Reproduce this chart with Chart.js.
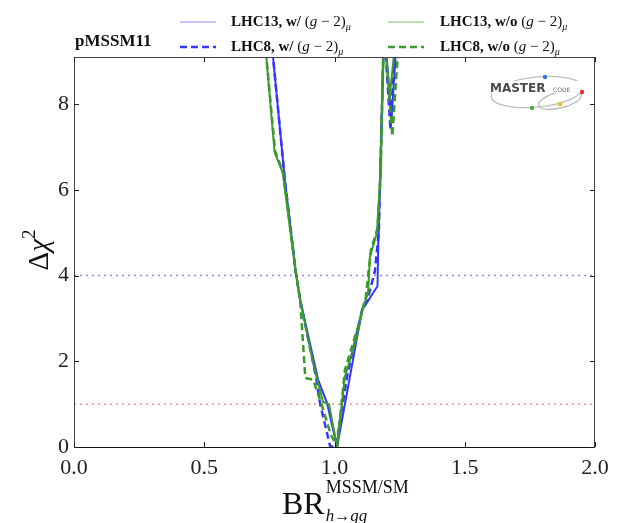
<!DOCTYPE html>
<html>
<head>
<meta charset="utf-8">
<script src="https://cdn.jsdelivr.net/npm/chart.js@4.4.1/dist/chart.umd.min.js"></script>
<style>
  html, body { margin: 0; padding: 0; background: #fff; }
  #wrap { width: 626px; height: 523px; }
</style>
</head>
<body>
<div id="wrap"><canvas id="chart" width="626" height="523"></canvas></div>
<script>
// Delta chi^2 profiles vs BR(h->gg) ratio, pMSSM11
const xTicks = [0.0, 0.5, 1.0, 1.5, 2.0];
const yTicks = [0, 2, 4, 6, 8];

const lhc13With = [
  [0.748, 10], [0.764, 9.1], [0.81, 6.2], [0.852, 4.05], [0.868, 3.44],
  [0.937, 1.57], [0.971, 1.03], [1.01, 0], [1.106, 3.2], [1.165, 3.75],
  [1.168, 4.7], [1.175, 6.2], [1.19, 9.8], [1.219, 7.7], [1.242, 9.8]
];
const lhc8With = [
  [0.748, 10], [0.764, 9.1], [0.81, 6.2], [0.852, 4.05], [0.868, 3.44],
  [0.93, 1.6], [0.944, 1.03], [0.983, 0.02], [1.005, 0], [1.05, 1.7],
  [1.106, 3.2], [1.125, 3.4], [1.155, 4.1], [1.17, 5.0], [1.175, 6.2],
  [1.19, 9.8], [1.215, 7.4], [1.235, 9.8]
];
const lhc13Without = [
  [0.725, 10], [0.738, 9.12], [0.77, 6.88], [0.801, 6.41], [0.852, 4.05],
  [0.868, 3.44], [0.92, 1.9], [0.956, 1.05], [0.979, 1.0], [1.01, 0],
  [1.04, 1.64], [1.086, 2.57], [1.11, 3.27], [1.129, 3.6], [1.136, 4.44],
  [1.163, 5.0], [1.175, 6.25], [1.19, 9.8], [1.212, 8.2], [1.24, 9.8]
];
const lhc8Without = [
  [0.725, 10], [0.738, 9.12], [0.772, 6.9], [0.803, 6.4], [0.852, 4.05],
  [0.868, 3.44], [0.888, 1.61], [0.918, 1.57], [0.95, 1.0], [0.985, 0.3],
  [1.01, 0], [1.04, 1.8], [1.09, 2.8], [1.12, 3.5], [1.14, 4.6],
  [1.165, 5.1], [1.177, 6.3], [1.19, 9.8], [1.222, 7.25], [1.25, 9.8]
];
// 95% and 68% CL reference levels
const level95 = [[0, 4], [2, 4]];
const level68 = [[0, 1], [2, 1]];

const BLUE = "#3535ff";
const GREEN = "#3a9a2a";
const SERIF = "'Liberation Serif', 'DejaVu Serif', serif";

const pts = (arr) => arr.map(([x, y]) => ({ x, y }));

const line = (label, arr, color, width, dash, order) => ({
  label,
  data: pts(arr),
  borderColor: color,
  borderWidth: width,
  borderDash: dash,
  pointRadius: 0,
  tension: 0,
  fill: false,
  order,
});

// draws a run of text pieces: [text, font, dy]
function drawRun(ctx, x, y, pieces, color) {
  ctx.fillStyle = color || "#111";
  ctx.textBaseline = "alphabetic";
  ctx.textAlign = "left";
  for (const [t, f, dy] of pieces) {
    ctx.font = f;
    ctx.fillText(t, x, y + (dy || 0));
    x += ctx.measureText(t).width;
  }
  return x;
}

function gm2(prefix) {
  return [
    [prefix, "bold 15px " + SERIF],
    ["(", "15px " + SERIF],
    ["g", "italic 15px " + SERIF],
    [" \u2212 2)", "15px " + SERIF],
    ["\u03bc", "italic 10px " + SERIF, 4],
  ];
}

const decor = {
  id: "decor",
  afterDraw(chart) {
    const { ctx, chartArea: a, scales } = chart;
    ctx.save();

    // frame
    ctx.strokeStyle = "#444";
    ctx.lineWidth = 1;
    ctx.strokeRect(a.left + 0.5, a.top + 0.5, a.right - a.left - 1, a.bottom - a.top);
    ctx.strokeStyle = "#111";
    ctx.beginPath();
    ctx.moveTo(a.left, a.bottom + 0.5);
    ctx.lineTo(a.right, a.bottom + 0.5);
    ctx.stroke();

    // inward tick marks on all four sides
    ctx.strokeStyle = "#222";
    ctx.beginPath();
    for (const v of xTicks) {
      const px = Math.round(scales.x.getPixelForValue(v)) + 0.5;
      ctx.moveTo(px, a.bottom); ctx.lineTo(px, a.bottom - 5);
      ctx.moveTo(px, a.top); ctx.lineTo(px, a.top + 5);
    }
    for (const v of yTicks) {
      const py = Math.round(scales.y.getPixelForValue(v)) + 0.5;
      ctx.moveTo(a.left, py); ctx.lineTo(a.left + 5, py);
      ctx.moveTo(a.right, py); ctx.lineTo(a.right - 5, py);
    }
    ctx.stroke();

    // y axis title
    ctx.save();
    ctx.translate(48, 250);
    ctx.rotate(-Math.PI / 2);
    const yw = (() => {
      ctx.font = "29px " + SERIF; let w = ctx.measureText("\u0394").width;
      ctx.font = "italic 29px " + SERIF; w += ctx.measureText("\u03c7").width;
      ctx.font = "19px " + SERIF; w += ctx.measureText("2").width;
      return w;
    })();
    drawRun(ctx, -yw / 2, 0, [
      ["\u0394", "29px " + SERIF],
      ["\u03c7", "italic 29px " + SERIF],
      ["2", "19px " + SERIF, -13],
    ]);
    ctx.restore();

    // x axis title
    const bx = 282;
    ctx.font = "32px " + SERIF;
    const brw = ctx.measureText("BR").width;
    drawRun(ctx, bx, 514, [["BR", "32px " + SERIF]]);
    drawRun(ctx, bx + brw + 1, 493, [["MSSM/SM", "18px " + SERIF]]);
    drawRun(ctx, bx + brw + 1, 521, [
      ["h", "italic 17px " + SERIF],
      ["\u2192", "16px " + SERIF],
      ["gg", "italic 17px " + SERIF],
    ]);

    // legend
    drawRun(ctx, 75, 46, [["pMSSM11", "bold 17px " + SERIF]]);
    const sample = (x, y, color, width, dash) => {
      ctx.strokeStyle = color;
      ctx.lineWidth = width;
      ctx.setLineDash(dash);
      ctx.beginPath();
      ctx.moveTo(x, y); ctx.lineTo(x + 36, y);
      ctx.stroke();
      ctx.setLineDash([]);
    };
    sample(180, 22, "#8c8cff", 1.2, []);
    sample(180, 47, BLUE, 2.5, [7, 4]);
    sample(388, 22, "#7fbf73", 1.2, []);
    sample(388, 47, GREEN, 2.5, [7, 4]);
    drawRun(ctx, 231, 26, gm2("LHC13, w/ "));
    drawRun(ctx, 231, 51, gm2("LHC8, w/ "));
    drawRun(ctx, 440, 26, gm2("LHC13, w/o "));
    drawRun(ctx, 440, 51, gm2("LHC8, w/o "));

    // MasterCode logo
    ctx.strokeStyle = "#bdbdbd";
    ctx.lineWidth = 1.3;
    ctx.beginPath();
    ctx.ellipse(537, 92, 46, 15, -0.1, 0, Math.PI * 2);
    ctx.stroke();
    ctx.beginPath();
    ctx.ellipse(560, 100, 22, 8, -0.25, 0, Math.PI * 2);
    ctx.stroke();
    ctx.fillStyle = "#fff";
    ctx.fillRect(489, 81, 98, 12);
    drawRun(ctx, 490, 92, [["MASTER", "bold 12px 'DejaVu Sans', sans-serif"]], "#4a4a4a");
    drawRun(ctx, 553, 92, [["CODE", "6px 'DejaVu Sans', sans-serif"]], "#666");
    const dot = (x, y, c) => {
      ctx.fillStyle = c;
      ctx.beginPath(); ctx.arc(x, y, 2.2, 0, Math.PI * 2); ctx.fill();
    };
    dot(545, 77, "#3a6fd8");
    dot(582, 92, "#e03030");
    dot(532, 108, "#4caf3a");
    dot(560, 104, "#e8c020");

    ctx.restore();
  },
};

new Chart(document.getElementById("chart"), {
  type: "line",
  data: {
    datasets: [
      line("level95", level95, "#8a8aff", 1.5, [2, 4], 10),
      line("level68", level68, "#ff8a8a", 1.5, [2, 4], 10),
      line("LHC13, w/ (g-2)", lhc13With, BLUE, 2, [], 4),
      line("LHC8, w/ (g-2)", lhc8With, BLUE, 2.5, [7, 4], 3),
      line("LHC13, w/o (g-2)", lhc13Without, GREEN, 2, [], 2),
      line("LHC8, w/o (g-2)", lhc8Without, GREEN, 2.5, [7, 4], 1),
    ],
  },
  options: {
    responsive: false,
    animation: false,
    layout: { padding: { left: 0, top: 57, right: 31, bottom: 0 } },
    plugins: { legend: { display: false }, tooltip: { enabled: false } },
    scales: {
      x: {
        type: "linear",
        min: 0,
        max: 2,
        afterFit: (s) => { s.height = 76; },
        afterBuildTicks: (s) => { s.ticks = xTicks.map((v) => ({ value: v })); },
        grid: { display: false, drawTicks: false },
        border: { display: false },
        ticks: {
          padding: 8,
          color: "#222",
          font: { family: SERIF, size: 22 },
          callback: (v) => v.toFixed(1),
        },
      },
      y: {
        type: "linear",
        min: 0,
        max: 9.1,
        afterFit: (s) => { s.width = 74; },
        afterBuildTicks: (s) => { s.ticks = yTicks.map((v) => ({ value: v })); },
        grid: { display: false, drawTicks: false },
        border: { display: false },
        ticks: {
          padding: 5,
          color: "#222",
          font: { family: SERIF, size: 22 },
          callback: (v) => String(v),
        },
      },
    },
  },
  plugins: [decor],
});
</script>
</body>
</html>
